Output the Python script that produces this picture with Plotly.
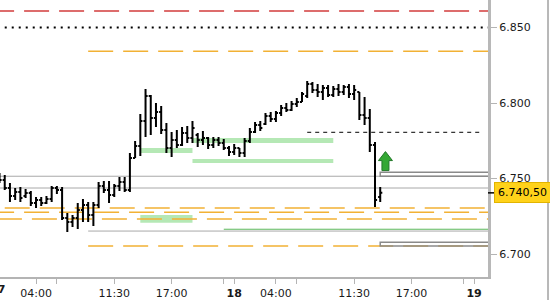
import plotly.graph_objects as go
import pandas as pd

# 30-minute bars, 17th 00:30 to 18th 14:00; the 22:00-23:00 hour is a session break (no bars)
bar_times = [t for t in pd.date_range("2023-05-17 00:30", "2023-05-18 14:00", freq="30min") if t.hour != 22]

opens = [6.7523, 6.7490, 6.7437, 6.7384, 6.7411, 6.7384, 6.7404, 6.7338, 6.7358, 6.7338,
         6.7364, 6.7437, 6.7424, 6.7238, 6.7212, 6.7238, 6.7291, 6.7325, 6.7258, 6.7325,
         6.7450, 6.7424, 6.7391, 6.7450, 6.7477, 6.7424, 6.7636, 6.7715, 6.7881, 6.8046,
         6.7901, 6.7940, 6.7821, 6.7702, 6.7755, 6.7722, 6.7801, 6.7768, 6.7788, 6.7755,
         6.7768, 6.7722, 6.7755, 6.7735, 6.7702, 6.7676, 6.7702, 6.7669, 6.7748, 6.7808,
         6.7854, 6.7861, 6.7914, 6.7894, 6.7934, 6.7967, 6.7954, 6.7993, 6.8007, 6.8046,
         6.8126, 6.8086, 6.8073, 6.8099, 6.8053, 6.8093, 6.8073, 6.8106, 6.8060, 6.8073,
         6.7921, 6.7901, 6.7722, 6.7377]
highs = [6.7536, 6.7523, 6.7470, 6.7437, 6.7444, 6.7430, 6.7417, 6.7377, 6.7377, 6.7384,
         6.7450, 6.7450, 6.7444, 6.7272, 6.7258, 6.7338, 6.7364, 6.7344, 6.7344, 6.7477,
         6.7483, 6.7483, 6.7464, 6.7510, 6.7510, 6.7669, 6.7748, 6.7927, 6.8093, 6.8053,
         6.8000, 6.7980, 6.7868, 6.7808, 6.7821, 6.7841, 6.7848, 6.7881, 6.7801, 6.7815,
         6.7775, 6.7775, 6.7775, 6.7762, 6.7715, 6.7728, 6.7702, 6.7768, 6.7834, 6.7874,
         6.7881, 6.7934, 6.7940, 6.7947, 6.7987, 6.8000, 6.8013, 6.8033, 6.8073, 6.8146,
         6.8139, 6.8126, 6.8119, 6.8119, 6.8113, 6.8126, 6.8119, 6.8126, 6.8119, 6.8073,
         6.8040, 6.7960, 6.7742, 6.7444]
lows = [6.7470, 6.7424, 6.7344, 6.7358, 6.7344, 6.7371, 6.7318, 6.7305, 6.7318, 6.7331,
        6.7344, 6.7397, 6.7225, 6.7146, 6.7179, 6.7166, 6.7212, 6.7212, 6.7185, 6.7305,
        6.7404, 6.7338, 6.7377, 6.7417, 6.7411, 6.7411, 6.7636, 6.7649, 6.7775, 6.7788,
        6.7841, 6.7795, 6.7669, 6.7642, 6.7702, 6.7715, 6.7735, 6.7735, 6.7709, 6.7722,
        6.7695, 6.7702, 6.7715, 6.7689, 6.7649, 6.7656, 6.7642, 6.7642, 6.7735, 6.7801,
        6.7815, 6.7854, 6.7874, 6.7874, 6.7914, 6.7940, 6.7947, 6.7974, 6.8007, 6.8033,
        6.8066, 6.8040, 6.8020, 6.8040, 6.8040, 6.8046, 6.8053, 6.8033, 6.8020, 6.7887,
        6.7854, 6.7676, 6.7311, 6.7344]
closes = [6.7490, 6.7437, 6.7384, 6.7411, 6.7371, 6.7404, 6.7338, 6.7358, 6.7338, 6.7364,
          6.7437, 6.7424, 6.7238, 6.7212, 6.7238, 6.7291, 6.7325, 6.7258, 6.7325, 6.7450,
          6.7424, 6.7391, 6.7450, 6.7477, 6.7424, 6.7636, 6.7715, 6.7881, 6.8046, 6.7901,
          6.7940, 6.7821, 6.7702, 6.7755, 6.7722, 6.7801, 6.7768, 6.7834, 6.7755, 6.7768,
          6.7722, 6.7755, 6.7735, 6.7702, 6.7676, 6.7702, 6.7669, 6.7748, 6.7808, 6.7854,
          6.7834, 6.7914, 6.7894, 6.7934, 6.7967, 6.7954, 6.7993, 6.8007, 6.8060, 6.8126,
          6.8086, 6.8073, 6.8099, 6.8053, 6.8093, 6.8073, 6.8106, 6.8060, 6.8086, 6.7921,
          6.7901, 6.7722, 6.7358, 6.7405]

last_price = 6.7405
last_price_label = "6.740,50"

# x-axis ticks
tick_times = ["2023-05-17 04:00", "2023-05-17 06:00", "2023-05-17 11:30", "2023-05-17 17:00",
              "2023-05-17 23:00", "2023-05-18 00:00", "2023-05-18 04:00", "2023-05-18 06:00",
              "2023-05-18 11:30", "2023-05-18 17:00", "2023-05-18 23:00", "2023-05-19 00:00"]
tick_labels = ["04:00", "", "11:30", "17:00", "", "<b>18</b>", "04:00", "", "11:30", "17:00", "", "<b>19</b>"]
first_day_label = "<b>17</b>"

y_ticks = [6.700, 6.750, 6.800, 6.850]

# horizontal levels: (start time, price)
red_level = ("2023-05-16 23:30", 6.8609)
dotted_level = ("2023-05-17 01:00", 6.8500)
orange_levels = [("2023-05-17 09:00", 6.8342), ("2023-05-17 01:00", 6.7305),
                 ("2023-05-16 23:30", 6.7277), ("2023-05-17 00:15", 6.7232),
                 ("2023-05-17 09:00", 6.7053)]
gray_levels = [("2023-05-16 23:00", 6.7515), ("2023-05-16 23:00", 6.7437), ("2023-05-17 09:00", 6.7152)]
green_line_level = ("2023-05-17 23:00", 6.7164)
short_dash_level = ("2023-05-18 07:00", "2023-05-19 00:45", 6.7806)
# zones: (start, end, low, high)
green_zones = [("2023-05-17 14:00", "2023-05-17 19:00", 6.7669, 6.7702),
               ("2023-05-17 14:00", "2023-05-17 19:00", 6.7207, 6.7258),
               ("2023-05-17 19:00", "2023-05-18 09:30", 6.7735, 6.7768),
               ("2023-05-17 19:00", "2023-05-18 09:30", 6.7603, 6.7629)]
bracket_zones = [("2023-05-18 14:00", 6.7515, 6.7542), ("2023-05-18 14:00", 6.7053, 6.7078)]
signal = ("2023-05-18 14:30", 6.7612)

far_right = "2023-05-19 03:00"
x_range = ["2023-05-17 00:32:47", "2023-05-19 01:20:00"]
y_range = [6.68477, 6.86821]

FONT = "DejaVu Sans"
fig = go.Figure()
fig.add_trace(go.Ohlc(
    x=bar_times, open=opens, high=highs, low=lows, close=closes,
    increasing=dict(line=dict(color="black", width=2)),
    decreasing=dict(line=dict(color="black", width=2)),
    tickwidth=0.4, hoverinfo="skip", showlegend=False))

shapes = []
def hline(x0, x1, y, color, width, dash="solid"):
    shapes.append(dict(type="line", xref="x", yref="y", x0=x0, x1=x1, y0=y, y1=y,
                       line=dict(color=color, width=width, dash=dash), layer="below"))

for (x0, x1, lo, hi) in green_zones:
    shapes.append(dict(type="rect", xref="x", yref="y", x0=x0, x1=x1, y0=lo, y1=hi,
                       fillcolor="#b5e8b5", line=dict(width=0), layer="below"))
hline(red_level[0], far_right, red_level[1], "#d23c3c", 1.5, "25px,10px")
hline(dotted_level[0], far_right, dotted_level[1], "black", 2, "2px,5px")
for (x0, y) in gray_levels:
    hline(x0, far_right, y, "#a8a8a8", 1)
hline(green_line_level[0], far_right, green_line_level[1], "#5cb85c", 1)
for (x0, y) in orange_levels:
    hline(x0, far_right, y, "#f2b134", 1.5, "25px,10px")
hline(short_dash_level[0], short_dash_level[1], short_dash_level[2], "black", 1, "4px,4px")
for (x0, lo, hi) in bracket_zones:
    shapes.append(dict(type="rect", xref="x", yref="y", x0=x0, x1=far_right, y0=lo, y1=hi,
                       line=dict(color="#8a8a8a", width=1.5), fillcolor="rgba(0,0,0,0)", layer="below"))
# green up arrow marker (pixel geometry around the signal point)
shapes.append(dict(type="path", xref="x", yref="y", xsizemode="pixel", ysizemode="pixel",
                   xanchor=signal[0], yanchor=signal[1],
                   path="M0,10 L7,1 L3.5,1 L3.5,-9 L-3.5,-9 L-3.5,1 L-7,1 Z",
                   fillcolor="#34a834", line=dict(color="#23782a", width=1), layer="above"))
# last-price tick on the axis
shapes.append(dict(type="line", xref="paper", yref="y", x0=1.0, x1=1.013, y0=last_price, y1=last_price,
                   line=dict(color="black", width=1.5)))
# right border of the chart window
shapes.append(dict(type="line", xref="paper", yref="paper", x0=1.123, x1=1.123, y0=-0.1, y1=1.0,
                   line=dict(color="#b8b8b8", width=2)))

annotations = [
    dict(xref="paper", yref="y", x=1.0123, y=last_price, xanchor="left", yanchor="middle",
         text=last_price_label, showarrow=False, font=dict(family=FONT, size=11, color="black"),
         bgcolor="#ffd21a", bordercolor="#e2b400", borderwidth=1, borderpad=3),
    dict(xref="paper", yref="paper", x=-0.006, y=0, yshift=-12, xanchor="center", yanchor="middle",
         text=first_day_label, showarrow=False, font=dict(family=FONT, size=11, color="#1a1a1a")),
]

fig.update_layout(
    width=550, height=300, margin=dict(l=0, r=62, t=0, b=23),
    paper_bgcolor="white", plot_bgcolor="white",
    shapes=shapes, annotations=annotations, showlegend=False,
    font=dict(family=FONT, size=11, color="#1a1a1a"),
    xaxis=dict(type="date", range=x_range, rangeslider=dict(visible=False),
               rangebreaks=[dict(bounds=[22, 23], pattern="hour")],
               tickvals=tick_times, ticktext=tick_labels, showgrid=False, zeroline=False,
               showline=True, linecolor="#b4b4b4", linewidth=1.5,
               ticks="outside", ticklen=5, tickcolor="#b4b4b4", tickwidth=1,
               tickfont=dict(family=FONT, size=11, color="#1a1a1a")),
    yaxis=dict(side="right", range=y_range, tickvals=y_ticks, tickformat=".3f",
               showgrid=False, zeroline=False, showline=True, linecolor="#b8b8b8", linewidth=3,
               ticks="outside", ticklen=6, tickcolor="#b4b4b4", tickwidth=1,
               tickfont=dict(family=FONT, size=11, color="#1a1a1a")),
)

fig.write_html("out.html")
